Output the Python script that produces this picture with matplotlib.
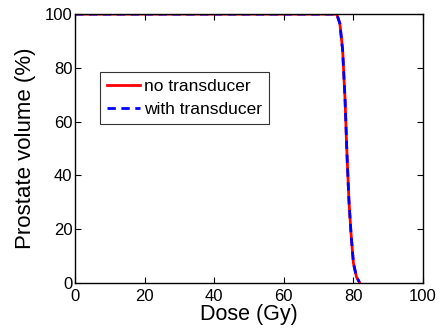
import matplotlib
matplotlib.use('Agg')
import matplotlib.pyplot as plt

plt.rcParams['font.family'] = ['Liberation Sans', 'DejaVu Sans']

# DVH data
dose = [0, 20, 40, 60, 75.2, 76.1, 76.9, 77.6, 78.1, 78.7, 79.3, 80.0, 80.9, 81.7]
vol_no = [100, 100, 100, 100, 100, 96.5, 86.6, 68, 49.4, 30.9, 18.6, 7.4, 2.2, 0.4]
vol_with = [100, 100, 100, 100, 100, 96.5, 86.6, 68, 49.4, 30.9, 18.6, 7.4, 2.2, 0.4]

xticks = [0, 20, 40, 60, 80, 100]
yticks = [0, 20, 40, 60, 80, 100]

fig = plt.figure(figsize=(4.42, 3.28), dpi=100)
ax = fig.add_axes([0.170, 0.137, 0.787, 0.820])

ax.plot(dose, vol_no, color='red', lw=2, label='no transducer')
ax.plot(dose, vol_with, color='blue', lw=2, ls=(0, (3, 2)), label='with transducer')

ax.set_xlim(0, 100)
ax.set_ylim(0, 100)
ax.set_xticks(xticks)
ax.set_yticks(yticks)
for s in ax.spines.values():
    s.set_linewidth(1.0)
ax.tick_params(direction='in', top=True, right=True, labelsize=12, length=4, pad=2)
ax.tick_params(axis='x', pad=4)
ax.set_xlabel('Dose (Gy)', fontsize=15.5, labelpad=0.5)
ax.set_ylabel('Prostate volume (%)', fontsize=16, labelpad=6)

leg = ax.legend(loc='upper left', bbox_to_anchor=(0.072, 0.786), fontsize=12.5,
                frameon=True, fancybox=False, edgecolor='black', handlelength=1.9,
                handletextpad=0.2, borderpad=0.4, labelspacing=0.45, borderaxespad=0)
leg.get_frame().set_linewidth(0.8)

fig.savefig('out.png', dpi=100)
